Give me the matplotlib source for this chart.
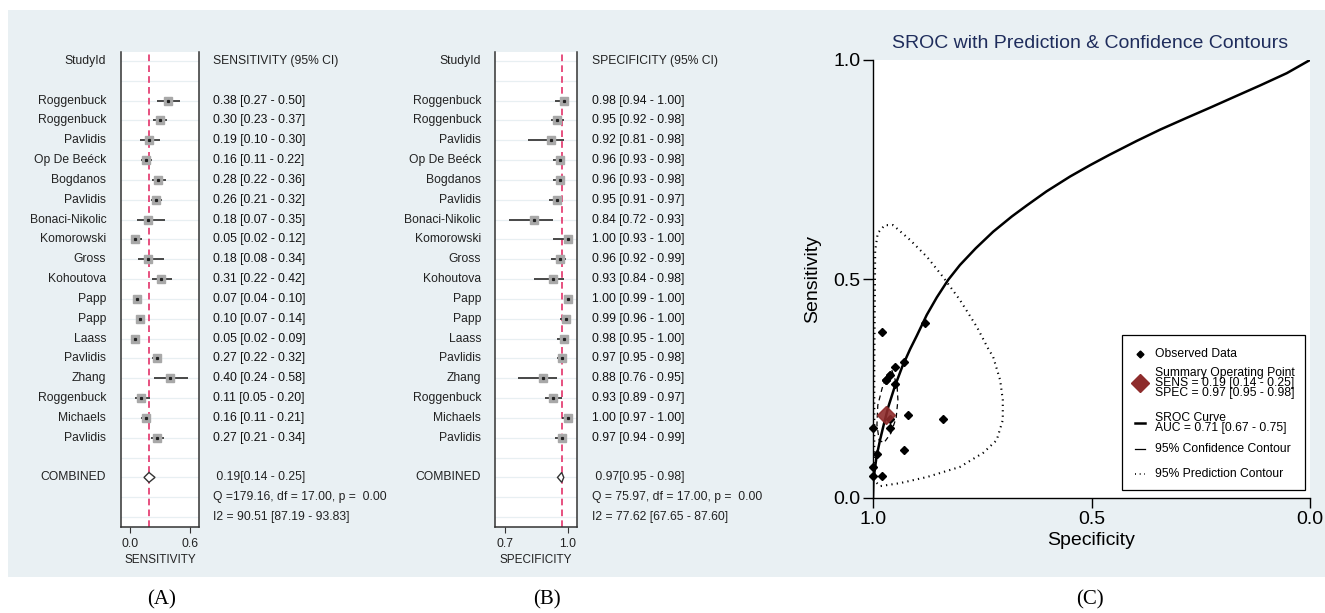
import numpy as np
import matplotlib
matplotlib.use('Agg')
from matplotlib import pyplot as plt
from matplotlib.patches import Rectangle

plt.rcParams['font.family'] = ['Liberation Sans', 'DejaVu Sans']

studies = ['Roggenbuck', 'Roggenbuck', 'Pavlidis', 'Op De Beéck', 'Bogdanos', 'Pavlidis',
           'Bonaci-Nikolic', 'Komorowski', 'Gross', 'Kohoutova', 'Papp', 'Papp', 'Laass',
           'Pavlidis', 'Zhang', 'Roggenbuck', 'Michaels', 'Pavlidis']

sens = [0.38, 0.30, 0.19, 0.16, 0.28, 0.26, 0.18, 0.05, 0.18, 0.31, 0.07, 0.10, 0.05,
        0.27, 0.40, 0.11, 0.16, 0.27]
sens_lo = [0.27, 0.23, 0.10, 0.11, 0.22, 0.21, 0.07, 0.02, 0.08, 0.22, 0.04, 0.07, 0.02,
           0.22, 0.24, 0.05, 0.11, 0.21]
sens_hi = [0.50, 0.37, 0.30, 0.22, 0.36, 0.32, 0.35, 0.12, 0.34, 0.42, 0.10, 0.14, 0.09,
           0.32, 0.58, 0.20, 0.21, 0.34]

spec = [0.98, 0.95, 0.92, 0.96, 0.96, 0.95, 0.84, 1.00, 0.96, 0.93, 1.00, 0.99, 0.98,
        0.97, 0.88, 0.93, 1.00, 0.97]
spec_lo = [0.94, 0.92, 0.81, 0.93, 0.93, 0.91, 0.72, 0.93, 0.92, 0.84, 0.99, 0.96, 0.95,
           0.95, 0.76, 0.89, 0.97, 0.94]
spec_hi = [1.00, 0.98, 0.98, 0.98, 0.98, 0.97, 0.93, 1.00, 0.99, 0.98, 1.00, 1.00, 1.00,
           0.98, 0.95, 0.97, 1.00, 0.99]

sens_pooled = (0.19, 0.14, 0.25)
spec_pooled = (0.97, 0.95, 0.98)
sens_stats = ['Q =179.16, df = 17.00, p =  0.00', 'I2 = 90.51 [87.19 - 93.83]']
spec_stats = ['Q = 75.97, df = 17.00, p =  0.00', 'I2 = 77.62 [67.65 - 87.60]']

# SROC curve (1 - specificity, sensitivity)
sroc_fpr = [0.0, 0.001, 0.008, 0.016, 0.024, 0.035, 0.050, 0.067, 0.085, 0.100, 0.123,
            0.146, 0.172, 0.199, 0.235, 0.275, 0.318, 0.352, 0.397, 0.451, 0.497, 0.542,
            0.603, 0.657, 0.718, 0.771, 0.825, 0.886, 0.947, 1.0]
sroc_sens = [0.0, 0.041, 0.094, 0.132, 0.165, 0.208, 0.255, 0.300, 0.340, 0.370, 0.418,
             0.458, 0.498, 0.532, 0.570, 0.608, 0.643, 0.668, 0.700, 0.734, 0.760, 0.784,
             0.815, 0.841, 0.868, 0.891, 0.915, 0.942, 0.970, 1.0]

conf_fpr = [0.043, 0.055, 0.057, 0.053, 0.041, 0.025, 0.014, 0.009, 0.011, 0.021, 0.032, 0.043]
conf_sens = [0.292, 0.258, 0.224, 0.183, 0.148, 0.126, 0.132, 0.167, 0.212, 0.251, 0.281, 0.292]

pred_fpr = [0.003, 0.005, 0.011, 0.027, 0.046, 0.085, 0.124, 0.160, 0.199, 0.238, 0.263,
            0.275, 0.291, 0.297, 0.297, 0.283, 0.252, 0.199, 0.124, 0.062, 0.016, 0.003, 0.003]
pred_sens = [0.30, 0.566, 0.605, 0.623, 0.623, 0.589, 0.55, 0.505, 0.452, 0.39, 0.342,
             0.322, 0.269, 0.224, 0.178, 0.132, 0.103, 0.071, 0.048, 0.034, 0.027, 0.04, 0.30]

W, H = 1325, 613
fig = plt.figure(figsize=(W / 100, H / 100), dpi=100)


def box(x0, y0, x1, y1):
    # pixel box -> figure fraction [left, bottom, width, height]
    return [x0 / W, 1 - y1 / H, (x1 - x0) / W, (y1 - y0) / H]


bg = Rectangle((8 / W, 1 - 577 / H), (W - 8) / W, 567 / H, transform=fig.transFigure,
               facecolor='#e9f0f3', edgecolor='none', zorder=-10)
fig.patches.append(bg)

txt = 8.7
n = len(studies)
rows = np.arange(n) + 2


def forest(rect, est, lo, hi, pooled, stats, xlim, ticks, ticklabels, xlabel, header, lab_x, col_x):
    ax = fig.add_axes(rect)
    ax.set_xlim(*xlim)
    ax.set_ylim(23.5, -0.45)
    for r in range(24):
        ax.axhline(r, color='#e8eff2', lw=0.9, zorder=0)
    ax.axvline(pooled[0], color='#e3326a', lw=1.2, ls=(0, (4, 2.5)), zorder=1)
    ax.hlines(rows, lo, hi, color='#3a3a3a', lw=1.3, zorder=2)
    ax.plot(est, rows, 's', ms=5.2, mfc='#a8a8a8', mec='#a8a8a8', zorder=3)
    ax.plot(est, rows, 's', ms=1.3, color='#222222', zorder=4)
    e, l, h = pooled
    ax.fill([l, e, h, e, l], [21, 20.75, 21, 21.25, 21], facecolor='white',
            edgecolor='#333333', lw=1.0, zorder=3)
    ax.spines['top'].set_visible(False)
    for s in ['left', 'right', 'bottom']:
        ax.spines[s].set_color('#333333')
        ax.spines[s].set_linewidth(1.1)
    ax.set_yticks([])
    ax.set_xticks(ticks)
    ax.set_xticklabels(ticklabels, fontsize=txt, color='#222222')
    ax.tick_params(axis='x', length=4, width=0.8, color='#333333', pad=4)
    ax.set_xlabel(xlabel, fontsize=8.5, color='#222222', labelpad=3)
    tr = ax.get_yaxis_transform()
    ax.text(lab_x, 0, 'StudyId', transform=tr, ha='right', va='center', fontsize=txt, color='#222222')
    ax.text(col_x, 0, header, transform=tr, ha='left', va='center', fontsize=txt, color='#222222')
    for r, name, a, b, c in zip(rows, studies, est, lo, hi):
        ax.text(lab_x, r, name, transform=tr, ha='right', va='center', fontsize=txt, color='#222222')
        ax.text(col_x, r, '%.2f [%.2f - %.2f]' % (a, b, c), transform=tr, ha='left',
                va='center', fontsize=txt, color='#111111')
    ax.text(lab_x, 21, 'COMBINED', transform=tr, ha='right', va='center', fontsize=txt, color='#222222')
    ax.text(col_x, 21, ' %.2f[%.2f - %.2f]' % pooled, transform=tr, ha='left', va='center',
            fontsize=txt, color='#222222')
    ax.text(col_x, 22, stats[0], transform=tr, ha='left', va='center', fontsize=txt, color='#222222')
    ax.text(col_x, 23, stats[1], transform=tr, ha='left', va='center', fontsize=txt, color='#222222')
    return ax


forest(box(121, 52, 199, 527), sens, sens_lo, sens_hi, sens_pooled, sens_stats,
       (-0.09, 0.69), [0.0, 0.6], ['0.0', '0.6'], 'SENSITIVITY', 'SENSITIVITY (95% CI)',
       -0.19, 1.18)
forest(box(495, 52, 577, 527), spec, spec_lo, spec_hi, spec_pooled, spec_stats,
       (0.652, 1.043), [0.7, 1.0], ['0.7', '1.0'], 'SPECIFICITY', 'SPECIFICITY (95% CI)',
       -0.17, 1.18)

# SROC panel
ax = fig.add_axes(box(873, 60, 1310, 498))
ax.set_facecolor('white')
ax.set_xlim(1.0, 0.0)
ax.set_ylim(0.0, 1.0)
ax.plot(1 - np.array(pred_fpr), pred_sens, color='black', lw=1.5, ls=(0, (0.6, 2.0)))
ax.plot(1 - np.array(conf_fpr), conf_sens, color='black', lw=0.9, ls=(0, (4, 3)))
ax.plot(1 - np.array(sroc_fpr), sroc_sens, color='black', lw=1.8, solid_joinstyle='round')
ax.plot(spec, sens, 'D', ms=4.5, color='black', clip_on=False)
ax.plot(spec_pooled[0], sens_pooled[0], 'D', ms=9, color='#8e2c2c', alpha=0.9)
for s in ['top', 'right']:
    ax.spines[s].set_visible(False)
ax.spines['left'].set_linewidth(1.0)
ax.spines['bottom'].set_linewidth(1.0)
ax.set_xticks([1.0, 0.5, 0.0])
ax.set_xticklabels(['1.0', '0.5', '0.0'])
ax.set_yticks([0.0, 0.5, 1.0])
ax.set_yticklabels(['0.0', '0.5', '1.0'])
ax.tick_params(length=7, width=1.0, labelsize=14, pad=2)
ax.set_xlabel('Specificity', fontsize=14, labelpad=3)
ax.set_ylabel('Sensitivity', fontsize=14, labelpad=9)
fig.text(1090 / W, 1 - 44 / H, 'SROC with Prediction & Confidence Contours', ha='center',
         va='center', fontsize=14, color='#1f2d5c')

# legend box drawn by hand, axes coordinates
ax.add_patch(Rectangle((0.570, 0.018), 0.419, 0.354, transform=ax.transAxes,
                       facecolor='white', edgecolor='black', lw=0.9, zorder=5))
lx, tx = 0.611, 0.645
lfs = 8.7
ax.plot([lx], [0.329], 'D', ms=3.5, color='black', transform=ax.transAxes, zorder=6)
ax.text(tx, 0.329, 'Observed Data', transform=ax.transAxes, va='center', fontsize=lfs, zorder=6)
ax.plot([lx], [0.262], 'D', ms=9, color='#8e2c2c', transform=ax.transAxes, zorder=6)
ax.text(tx, 0.262, 'Summary Operating Point\nSENS = 0.19 [0.14 - 0.25]\nSPEC = 0.97 [0.95 - 0.98]',
        transform=ax.transAxes, va='center', fontsize=lfs, linespacing=0.78, zorder=6)
ax.plot([lx - 0.012, lx + 0.012], [0.171, 0.171], color='black', lw=1.8, transform=ax.transAxes, zorder=6)
ax.text(tx, 0.171, 'SROC Curve\nAUC = 0.71 [0.67 - 0.75]', transform=ax.transAxes, va='center',
        fontsize=lfs, linespacing=0.78, zorder=6)
ax.plot([lx - 0.012, lx + 0.012], [0.112, 0.112], color='black', lw=0.9, transform=ax.transAxes, zorder=6)
ax.text(tx, 0.112, '95% Confidence Contour', transform=ax.transAxes, va='center', fontsize=lfs, zorder=6)
ax.plot([lx - 0.012, lx + 0.012], [0.055, 0.055], color='black', lw=1.2, ls=(0, (0.6, 2.2)),
        transform=ax.transAxes, zorder=6)
ax.text(tx, 0.055, '95% Prediction Contour', transform=ax.transAxes, va='center', fontsize=lfs, zorder=6)

for lab, x in [('(A)', 162), ('(B)', 547), ('(C)', 1090)]:
    fig.text(x / W, 1 - 600 / H, lab, ha='center', va='center', fontsize=15,
             family=['Liberation Serif', 'DejaVu Serif'])

fig.savefig('out.png', dpi=100)
